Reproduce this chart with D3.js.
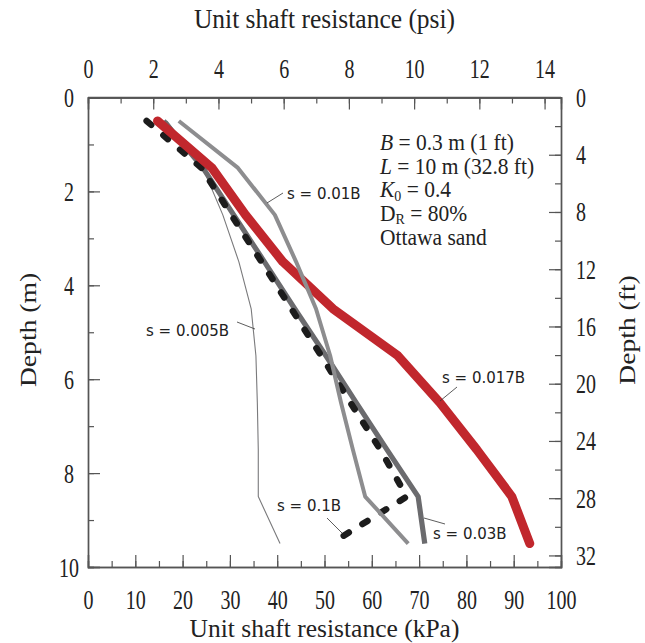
<!DOCTYPE html>
<html>
<head>
<meta charset="utf-8">
<script src="https://cdn.jsdelivr.net/npm/d3@7"></script>
<style>
  html, body { margin: 0; padding: 0; background: #fff; }
  svg { display: block; }
</style>
</head>
<body>
<div id="chart-shaft"></div>
<script>
// ── Data: unit shaft resistance (kPa) vs depth (m) ──
const DEPTHS   = [0.5, 1.5, 2.5, 3.5, 4.5, 5.5, 6.5, 7.5, 8.5, 9.5];
const S_0005B  = [16.7, 24.3, 28.5, 31.9, 34.5, 35.5, 35.8, 36.0, 36.0, 40.6];
const S_001B   = [19.2, 31.7, 39.5, 44.0, 48.2, 51.2, 53.5, 56.0, 58.6, 67.7];
const S_003B   = [16.0, 24.3, 30.8, 37.3, 43.7, 50.3, 56.7, 63.2, 69.8, 71.2];
const S_01B    = [12.4, 24.0, 30.3, 36.7, 43.0, 49.3, 55.5, 61.8, 67.4, 51.4];
const S_0017B  = [14.7, 26.2, 33.3, 41.2, 51.8, 65.5, 74.4, 82.2, 89.6, 93.4];

const KPA_TICKS = d3.range(0, 101, 10);
const PSI_TICKS = d3.range(0, 15, 2);
const M_TICKS   = d3.range(0, 11, 2);
const FT_TICKS  = d3.range(0, 33, 4);

(function () {
  const W = 645, H = 643;
  const X0 = 88, X1 = 561, Y0 = 97.5, Y1 = 567;
  const SERIF = "'Liberation Serif','Times New Roman',serif";
  const SANS  = "'DejaVu Sans',Verdana,sans-serif";
  const AXIS_COLOR = "#555";
  const TICK_SY = 1.32;   // figure text looks vertically stretched

  const svg = d3.select("#chart-shaft").append("svg")
    .attr("width", W).attr("height", H);

  const x    = d3.scaleLinear().domain([0, 100]).range([X0, X1]);
  const xPsi = d3.scaleLinear().domain([0, 100 / 6.894757]).range([X0, X1]);
  const y    = d3.scaleLinear().domain([0, 10]).range([Y0, Y1]);
  const yFt  = d3.scaleLinear().domain([0, 10 / 0.3048]).range([Y0, Y1]);

  // ── Axes: ticks point inward ─────────────────
  function styleAxis(gEl) {
    gEl.select(".domain").attr("stroke", AXIS_COLOR).attr("stroke-width", 1.4);
    gEl.selectAll(".tick line").attr("stroke", AXIS_COLOR).attr("stroke-width", 1.2);
    gEl.selectAll("text").attr("font-family", SERIF).attr("font-size", "20px")
      .attr("fill", "#222");
  }

  function stretchLabels(gEl, tx, ty, anchor) {
    gEl.selectAll(".tick text")
      .attr("x", null).attr("y", null).attr("dy", null)
      .attr("text-anchor", anchor)
      .attr("transform", `translate(${tx},${ty}) scale(1,${TICK_SY})`);
  }

  function minor(axisFn, scale, step, max) {
    return axisFn(scale).tickValues(d3.range(0, max + 0.001, step))
      .tickSize(6).tickFormat("");
  }

  // minor ticks
  svg.append("g").attr("transform", `translate(0,${Y1})`)
    .call(minor(d3.axisTop, x, 5, 100)).call(styleAxis);
  svg.append("g").attr("transform", `translate(0,${Y0})`)
    .call(minor(d3.axisBottom, xPsi, 1, 14)).call(styleAxis);
  svg.append("g").attr("transform", `translate(${X0},0)`)
    .call(minor(d3.axisRight, y, 1, 10)).call(styleAxis);
  svg.append("g").attr("transform", `translate(${X1},0)`)
    .call(minor(d3.axisLeft, yFt, 2, 32)).call(styleAxis);

  // bottom kPa
  svg.append("g").attr("transform", `translate(0,${Y1})`)
    .call(d3.axisTop(x).tickValues(KPA_TICKS).tickSize(12))
    .call(styleAxis)
    .call(g => stretchLabels(g, 0, 42, "middle"));

  // top psi
  svg.append("g").attr("transform", `translate(0,${Y0})`)
    .call(d3.axisBottom(xPsi).tickValues(PSI_TICKS).tickSize(12))
    .call(styleAxis)
    .call(g => stretchLabels(g, 0, -20, "middle"));

  // left m
  svg.append("g").attr("transform", `translate(${X0},0)`)
    .call(d3.axisRight(y).tickValues(M_TICKS).tickSize(12))
    .call(styleAxis)
    .call(g => stretchLabels(g, -19, 9, "middle"));

  // right ft
  svg.append("g").attr("transform", `translate(${X1},0)`)
    .call(d3.axisLeft(yFt).tickValues(FT_TICKS).tickSize(12))
    .call(styleAxis)
    .call(g => stretchLabels(g, 15, 9, "start"));

  // closing frame line on top
  svg.append("line").attr("x1", X0).attr("x2", X1).attr("y1", Y0).attr("y2", Y0)
    .attr("stroke", AXIS_COLOR).attr("stroke-width", 1.4);

  // ── Axis titles ──────────────────────────────
  function title(txt, tr, size) {
    svg.append("text").attr("transform", tr)
      .attr("text-anchor", "middle").attr("font-family", SERIF)
      .attr("font-size", size).attr("fill", "#222").text(txt);
  }
  title("Unit shaft resistance (psi)", `translate(${(X0 + X1) / 2},28) scale(1,1.1)`, "25.5px");
  title("Unit shaft resistance (kPa)", `translate(${(X0 + X1) / 2},637)`, "25.5px");
  title("Depth (m)",  "translate(36,330) rotate(-90) scale(1.15,1)", "24px");
  title("Depth (ft)", "translate(635,330) rotate(-90) scale(1.15,1)", "24px");

  // ── Curves ───────────────────────────────────
  const line = d3.line().x(d => x(d[0])).y(d => y(d[1]));
  const pts  = vals => vals.map((v, i) => [v, DEPTHS[i]]);

  const series = [
    { vals: S_0005B, color: "#7a7a7c", width: 1.1 },
    { vals: S_003B,  color: "#6b6b6e", width: 5.2 },
    { vals: S_01B,   color: "#1c1c1c", width: 6.5, dash: "6,16", cap: "round" },
    { vals: S_0017B, color: "#c1272d", width: 9,   cap: "round" },
    { vals: S_001B,  color: "#8d8d8f", width: 4 }
  ];
  series.forEach(s => {
    svg.append("path").datum(pts(s.vals)).attr("d", line)
      .attr("fill", "none").attr("stroke", s.color)
      .attr("stroke-width", s.width)
      .attr("stroke-linejoin", "round")
      .attr("stroke-linecap", s.cap || "butt")
      .attr("stroke-dasharray", s.dash || null);
  });

  // ── Curve labels with leaders ────────────────
  const labels = [
    { t: "s = 0.01B",  tx: 287, ty: 199, l: [267, 203, 283, 193] },
    { t: "s = 0.005B", tx: 146, ty: 336, l: [237, 322, 255, 329] },
    { t: "s = 0.017B", tx: 442, ty: 383, l: [457, 387, 440, 401] },
    { t: "s = 0.1B",   tx: 277, ty: 511, l: [327, 518, 342, 533] },
    { t: "s = 0.03B",  tx: 433, ty: 539, l: [424, 518, 445, 524] }
  ];
  labels.forEach(d => {
    svg.append("line").attr("x1", d.l[0]).attr("y1", d.l[1])
      .attr("x2", d.l[2]).attr("y2", d.l[3])
      .attr("stroke", "#333").attr("stroke-width", 0.8);
    svg.append("text").attr("x", d.tx).attr("y", d.ty)
      .attr("font-family", SANS).attr("font-size", "15px")
      .attr("fill", "#222").text(d.t);
  });

  // ── Parameter block ──────────────────────────
  const info = svg.append("g").attr("font-family", SERIF)
    .attr("font-size", "21.5px").attr("fill", "#222");
  const rows = [
    [["B", "i"], [" = 0.3 m (1 ft)"]],
    [["L", "i"], [" = 10 m (32.8 ft)"]],
    [["K", "i"], ["0", "sub"], [" = 0.4"]],
    [["D"], ["R", "sub"], [" = 80%"]],
    [["Ottawa sand"]]
  ];
  rows.forEach((r, i) => {
    const t = info.append("text")
      .attr("transform", `translate(380,${150 + i * 23.7}) scale(1,1.08)`);
    let sub = false;
    r.forEach(([txt, st]) => {
      const ts = t.append("tspan").text(txt);
      if (st === "i") ts.attr("font-style", "italic");
      if (st === "sub") {
        ts.attr("font-size", "14px").attr("dy", "3");
        sub = true;
      } else if (sub) {
        ts.attr("dy", "-3");
        sub = false;
      }
    });
  });
})();
</script>
</body>
</html>
